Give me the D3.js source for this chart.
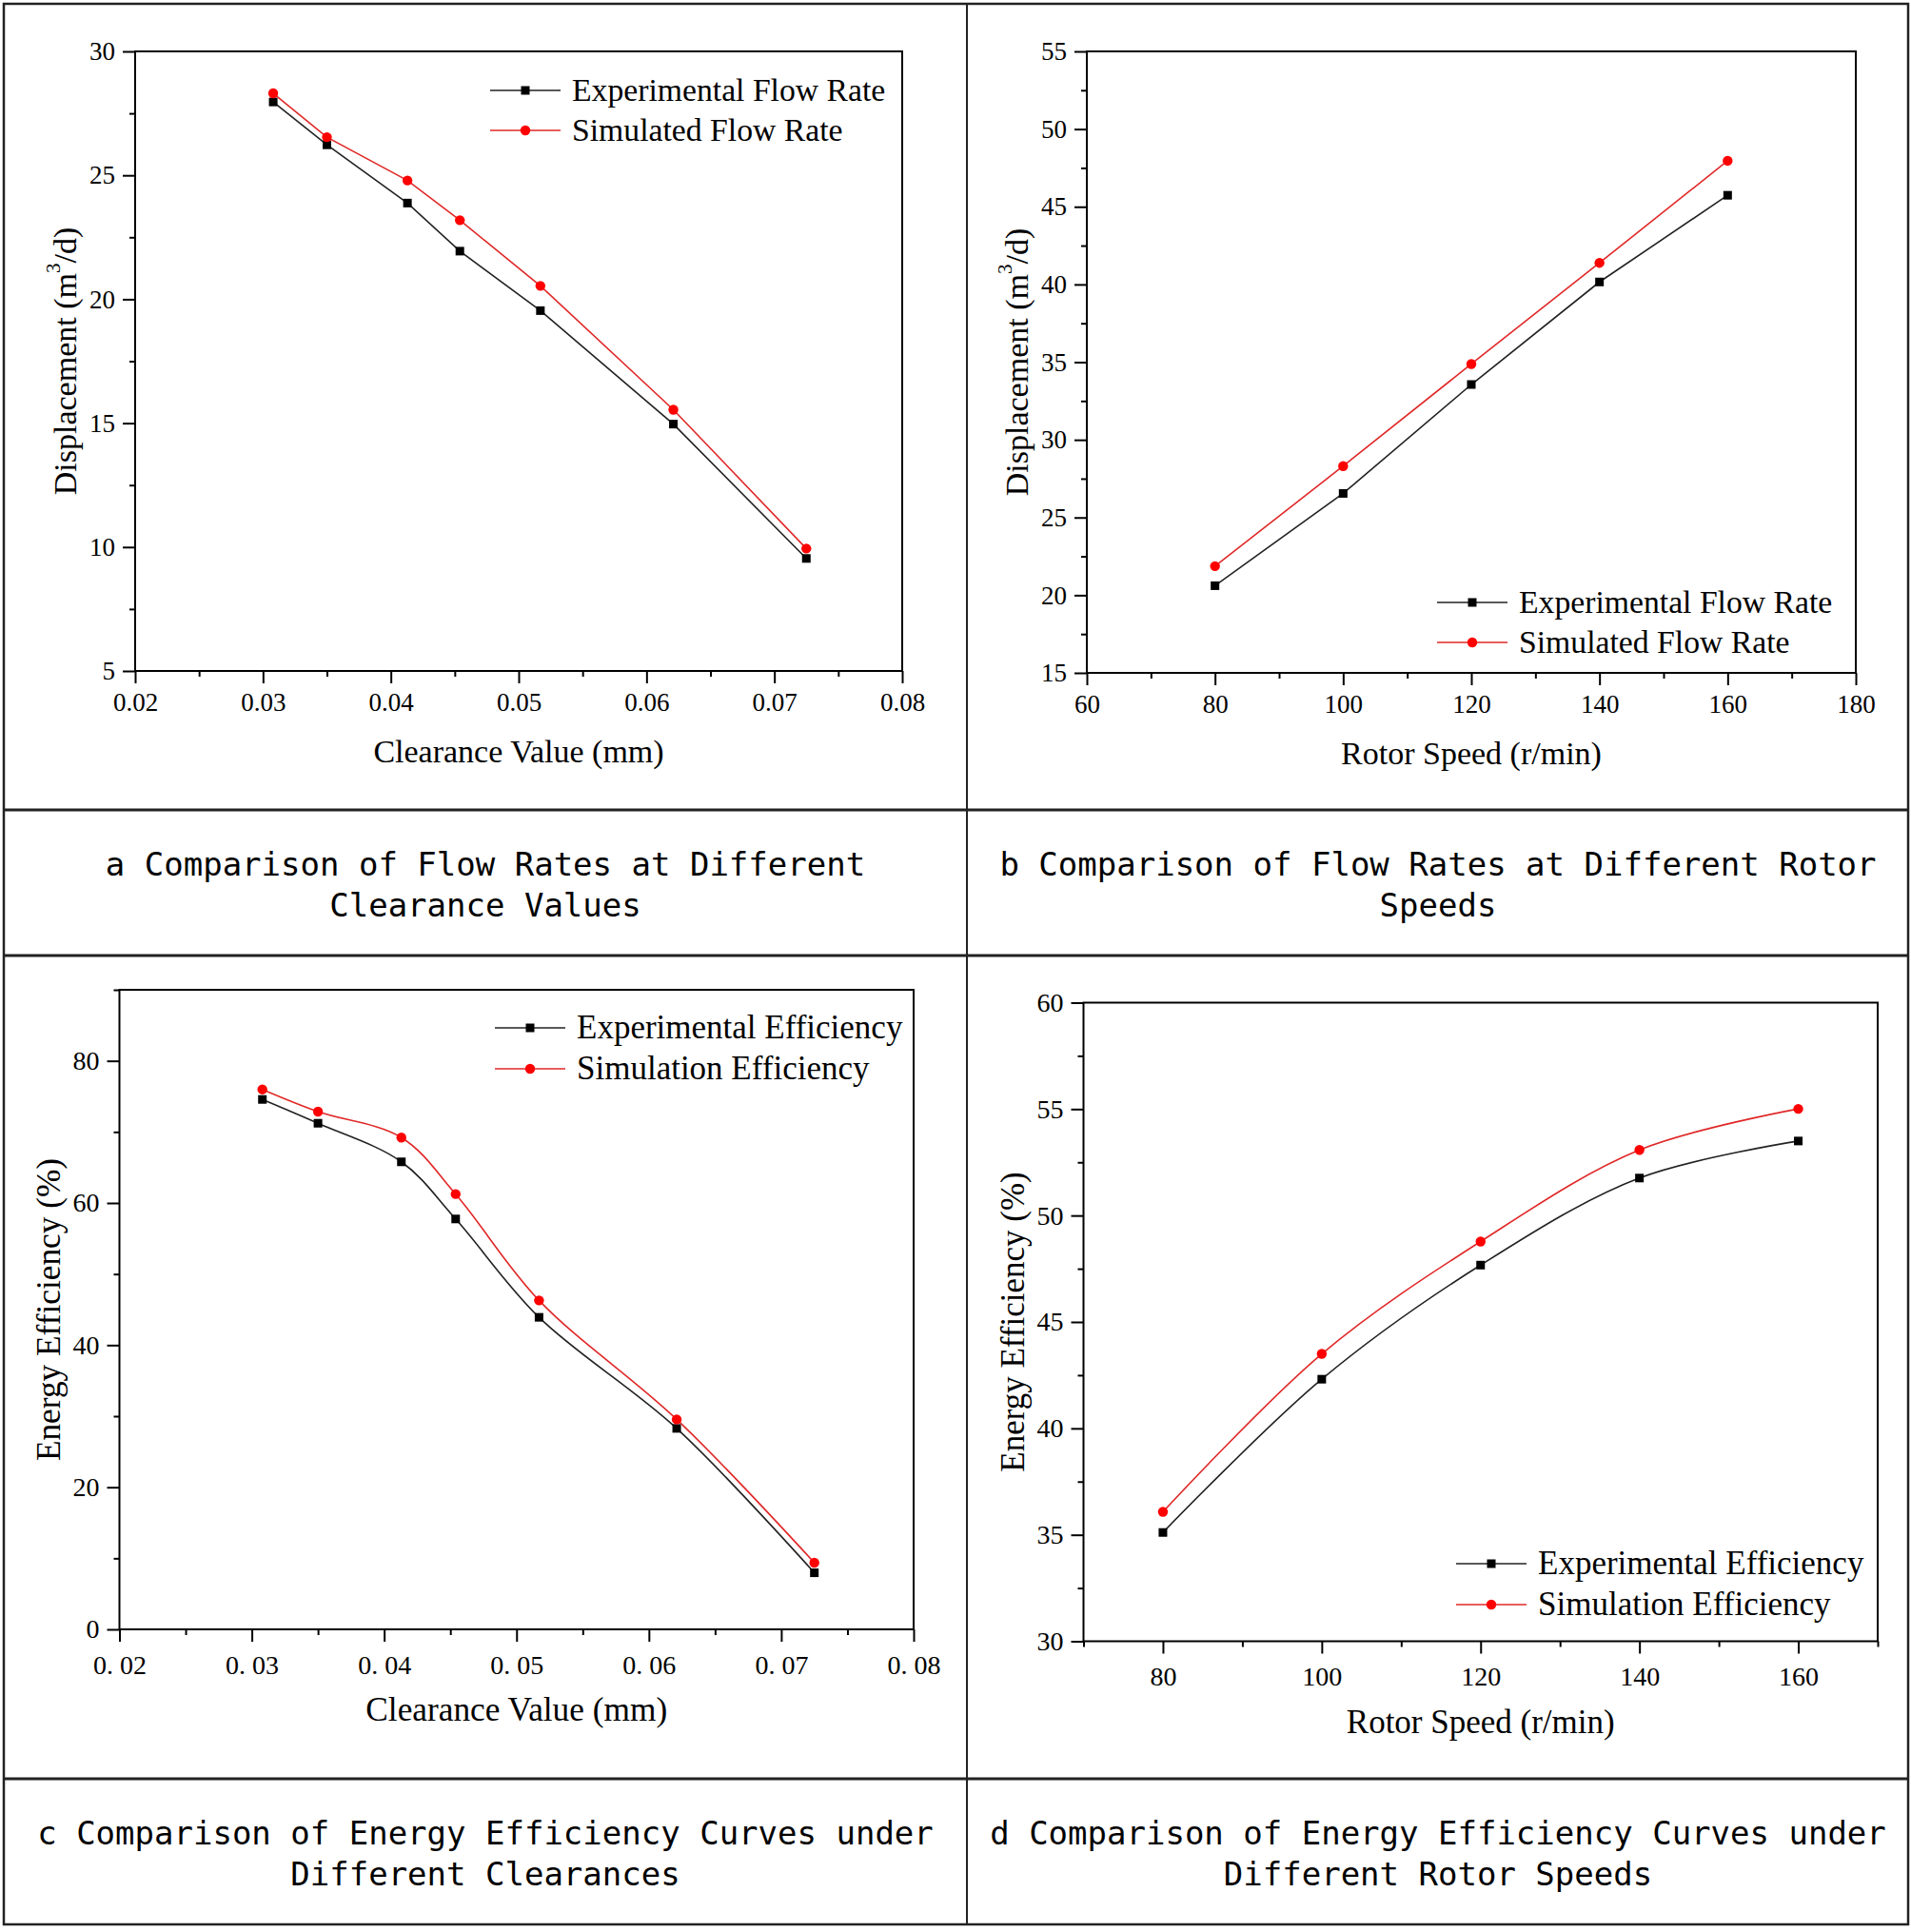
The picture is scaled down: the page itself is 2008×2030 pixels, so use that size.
<!DOCTYPE html>
<html>
<head>
<meta charset="utf-8">
<script src="https://cdn.jsdelivr.net/npm/d3@7"></script>
<style>
  html, body { margin: 0; padding: 0; background: #fff; }
  svg { display: block; }
</style>
</head>
<body>
<svg id="chart" width="2008" height="2030"></svg>
<script>
// ---------------- DATA ----------------
const clearance = [0.0308, 0.0350, 0.0413, 0.0454, 0.0517, 0.0621, 0.0725];
const flowExpA  = [27.96, 26.23, 23.88, 21.94, 19.54, 14.96, 9.54];
const flowSimA  = [28.31, 26.54, 24.79, 23.19, 20.54, 15.54, 9.94];

const rotorSpeed = [80, 100, 120, 140, 160];
const flowExpB   = [20.61, 26.55, 33.56, 40.16, 45.74];
const flowSimB   = [21.87, 28.31, 34.88, 41.39, 47.96];

const effExpC = [74.57, 71.22, 65.79, 57.75, 43.91, 28.28, 7.96];
const effSimC = [75.98, 72.86, 69.21, 61.25, 46.29, 29.54, 9.38];

const effExpD = [35.11, 42.31, 47.67, 51.76, 53.50];
const effSimD = [36.08, 43.50, 48.78, 53.08, 55.01];

// tick values & labels
const xTicksClear   = [0.02, 0.03, 0.04, 0.05, 0.06, 0.07, 0.08];
const xLabelsA      = ["0.02", "0.03", "0.04", "0.05", "0.06", "0.07", "0.08"];
const xLabelsC      = ["0. 02", "0. 03", "0. 04", "0. 05", "0. 06", "0. 07", "0. 08"];
const xMinorClear   = [0.025, 0.035, 0.045, 0.055, 0.065, 0.075];
const yTicksA       = [5, 10, 15, 20, 25, 30];
const yMinorA       = [7.5, 12.5, 17.5, 22.5, 27.5];
const xTicksB       = [60, 80, 100, 120, 140, 160, 180];
const xMinorB       = [70, 90, 110, 130, 150, 170];
const yTicksB       = [15, 20, 25, 30, 35, 40, 45, 50, 55];
const yMinorB       = [17.5, 22.5, 27.5, 32.5, 37.5, 42.5, 47.5, 52.5];
const yTicksC       = [0, 20, 40, 60, 80];
const yMinorC       = [10, 30, 50, 70, 90];
const xTicksD       = [80, 100, 120, 140, 160];
const xMinorD       = [70, 90, 110, 130, 150, 170];
const yTicksD       = [30, 35, 40, 45, 50, 55, 60];
const yMinorD       = [32.5, 37.5, 42.5, 47.5, 52.5, 57.5];

const legendFlow = ["Experimental Flow Rate", "Simulated Flow Rate"];
const legendEff  = ["Experimental Efficiency", "Simulation Efficiency"];

const captions = [
  ["a Comparison of Flow Rates at Different", "Clearance Values"],
  ["b Comparison of Flow Rates at Different Rotor", "Speeds"],
  ["c Comparison of Energy Efficiency Curves under", "Different Clearances"],
  ["d Comparison of Energy Efficiency Curves under", "Different Rotor Speeds"]
];

// ---------------- DRAW ----------------
const svg = d3.select("#chart");
const SERIF = "'Liberation Serif', 'Times New Roman', serif";
const MONO = "'DejaVu Sans Mono', monospace";

// Outer layout lines
svg.append("rect").attr("x", 4).attr("y", 4).attr("width", 2001).attr("height", 2018)
  .attr("fill", "none").attr("stroke", "#222").attr("stroke-width", 2.5);
[851, 1004, 1869].forEach(y => {
  svg.append("line").attr("x1", 4).attr("x2", 2005).attr("y1", y).attr("y2", y)
    .attr("stroke", "#222").attr("stroke-width", 3);
});
svg.append("line").attr("x1", 1016).attr("x2", 1016).attr("y1", 4).attr("y2", 2022)
  .attr("stroke", "#222").attr("stroke-width", 2);

// captions
const capPos = [
  {cx: 510, y: 908}, {cx: 1511, y: 908},
  {cx: 510, y: 1926}, {cx: 1511, y: 1926}
];
captions.forEach((lines, i) => {
  lines.forEach((t, j) => {
    svg.append("text")
      .attr("x", capPos[i].cx).attr("y", capPos[i].y + j * 43)
      .attr("text-anchor", "middle").attr("dominant-baseline", "central")
      .attr("font-family", MONO).attr("font-size", 34).attr("fill", "#000")
      .text(t);
  });
});

function drawPanel(cfg) {
  const g = svg.append("g");
  const x = d3.scaleLinear().domain(cfg.xDomain).range([cfg.left, cfg.right]);
  const y = d3.scaleLinear().domain(cfg.yDomain).range([cfg.bottom, cfg.top]);

  // axes
  const axB = d3.axisBottom(x).tickValues(cfg.xTicks).tickSize(13).tickPadding(cfg.xPad)
    .tickFormat((d, i) => cfg.xLabels[i]);
  const axBm = d3.axisBottom(x).tickValues(cfg.xMinor).tickSize(6).tickFormat("");
  const axL = d3.axisLeft(y).tickValues(cfg.yTicks).tickSize(13).tickPadding(8)
    .tickFormat(d => String(d));
  const axLm = d3.axisLeft(y).tickValues(cfg.yMinor).tickSize(6).tickFormat("");

  [[axB, "b"], [axBm, "b"], [axL, "l"], [axLm, "l"]].forEach(([ax, side]) => {
    const a = g.append("g")
      .attr("transform", side === "b" ? `translate(0,${cfg.bottom})` : `translate(${cfg.left},0)`)
      .call(ax);
    a.select(".domain").remove();
    a.selectAll("line").attr("stroke", "#000").attr("stroke-width", 2);
    a.selectAll("text").attr("font-family", SERIF).attr("font-size", cfg.tickFont).attr("fill", "#000");
  });

  // frame
  g.append("rect").attr("x", cfg.left).attr("y", cfg.top)
    .attr("width", cfg.right - cfg.left).attr("height", cfg.bottom - cfg.top)
    .attr("fill", "none").attr("stroke", "#000").attr("stroke-width", 2);

  // axis titles
  g.append("text").attr("x", (cfg.left + cfg.right) / 2).attr("y", cfg.bottom + 96)
    .attr("text-anchor", "middle").attr("font-family", SERIF).attr("font-size", cfg.titleFont)
    .attr("fill", "#000").text(cfg.xTitle);

  const yt = g.append("text")
    .attr("transform", `translate(${cfg.left - 74},${(cfg.top + cfg.bottom) / 2}) rotate(-90)`)
    .attr("text-anchor", "middle").attr("dominant-baseline", "central")
    .attr("font-family", SERIF).attr("font-size", cfg.titleFont).attr("fill", "#000");
  if (cfg.yTitleSup) {
    yt.append("tspan").text(cfg.yTitle[0]);
    yt.append("tspan").attr("font-size", 21).attr("dy", -12).text(cfg.yTitle[1]);
    yt.append("tspan").attr("dy", 12).text(cfg.yTitle[2]);
  } else {
    yt.text(cfg.yTitle);
  }

  // series
  const series = [
    {vals: cfg.exp, color: "#222", fill: "#000", marker: "square"},
    {vals: cfg.sim, color: "#e02828", fill: "#ff0000", marker: "circle"}
  ];
  const line = d3.line().x(d => x(d[0])).y(d => y(d[1])).curve(cfg.curve);
  series.forEach(s => {
    const pts = cfg.xs.map((xv, i) => [xv, s.vals[i]]);
    g.append("path").datum(pts).attr("d", line).attr("fill", "none")
      .attr("stroke", s.color).attr("stroke-width", 1.6);
    if (s.marker === "square") {
      g.selectAll(null).data(pts).enter().append("rect")
        .attr("x", d => x(d[0]) - 4.5).attr("y", d => y(d[1]) - 4.5)
        .attr("width", 9).attr("height", 9).attr("fill", s.fill);
    } else {
      g.selectAll(null).data(pts).enter().append("circle")
        .attr("cx", d => x(d[0])).attr("cy", d => y(d[1])).attr("r", 5.2)
        .attr("fill", s.fill);
    }
  });

  // legend
  cfg.legendNames.forEach((name, i) => {
    const ly = cfg.legend.y + i * cfg.legend.dy;
    const s = series[i];
    g.append("line").attr("x1", cfg.legend.x).attr("x2", cfg.legend.x + 74)
      .attr("y1", ly).attr("y2", ly).attr("stroke", s.color).attr("stroke-width", 1.6);
    const mx = cfg.legend.x + 37;
    if (s.marker === "square") {
      g.append("rect").attr("x", mx - 4.5).attr("y", ly - 4.5).attr("width", 9).attr("height", 9)
        .attr("fill", s.fill);
    } else {
      g.append("circle").attr("cx", mx).attr("cy", ly).attr("r", 5.2).attr("fill", s.fill);
    }
    g.append("text").attr("x", cfg.legend.x + 86).attr("y", ly + 11)
      .attr("font-family", SERIF).attr("font-size", cfg.legendFont).attr("fill", "#000").text(name);
  });
}

// Panel a
drawPanel({
  left: 142, right: 948, top: 54, bottom: 705,
  xDomain: [0.02, 0.08], yDomain: [5, 30],
  xTicks: xTicksClear, xLabels: xLabelsA, xMinor: xMinorClear,
  yTicks: yTicksA, yMinor: yMinorA,
  xs: clearance, exp: flowExpA, sim: flowSimA, curve: d3.curveLinear,
  xTitle: "Clearance Value (mm)",
  yTitle: ["Displacement (m", "3", "/d)"], yTitleSup: true,
  tickFont: 27, titleFont: 34, legendFont: 33.7, xPad: 10,
  legendNames: legendFlow, legend: {x: 515, y: 95, dy: 42}
});

// Panel b
drawPanel({
  left: 1142, right: 1950, top: 54, bottom: 707,
  xDomain: [60, 180], yDomain: [15, 55],
  xTicks: xTicksB, xLabels: xTicksB.map(String), xMinor: xMinorB,
  yTicks: yTicksB, yMinor: yMinorB,
  xs: rotorSpeed, exp: flowExpB, sim: flowSimB, curve: d3.curveLinear,
  xTitle: "Rotor Speed (r/min)",
  yTitle: ["Displacement (m", "3", "/d)"], yTitleSup: true,
  tickFont: 27, titleFont: 34, legendFont: 33.7, xPad: 10,
  legendNames: legendFlow, legend: {x: 1510, y: 633, dy: 42}
});

// Panel c
drawPanel({
  left: 125.5, right: 960, top: 1040, bottom: 1712,
  xDomain: [0.02, 0.08], yDomain: [0, 90],
  xTicks: xTicksClear, xLabels: xLabelsC, xMinor: xMinorClear,
  yTicks: yTicksC, yMinor: yMinorC,
  xs: clearance, exp: effExpC, sim: effSimC, curve: d3.curveCatmullRom.alpha(0.5),
  xTitle: "Clearance Value (mm)",
  yTitle: "Energy Efficiency (%)", yTitleSup: false,
  tickFont: 28, titleFont: 35.3, legendFont: 35, xPad: 14,
  legendNames: legendEff, legend: {x: 520, y: 1080, dy: 43}
});

// Panel d
drawPanel({
  left: 1138.5, right: 1973, top: 1053.5, bottom: 1724.5,
  xDomain: [70, 170], yDomain: [30, 60],
  xTicks: xTicksD, xLabels: xTicksD.map(String), xMinor: xMinorD,
  yTicks: yTicksD, yMinor: yMinorD,
  xs: rotorSpeed, exp: effExpD, sim: effSimD, curve: d3.curveCatmullRom.alpha(0.5),
  xTitle: "Rotor Speed (r/min)",
  yTitle: "Energy Efficiency (%)", yTitleSup: false,
  tickFont: 28, titleFont: 35, legendFont: 35, xPad: 14,
  legendNames: legendEff, legend: {x: 1530, y: 1643, dy: 43}
});
</script>
</body>
</html>
